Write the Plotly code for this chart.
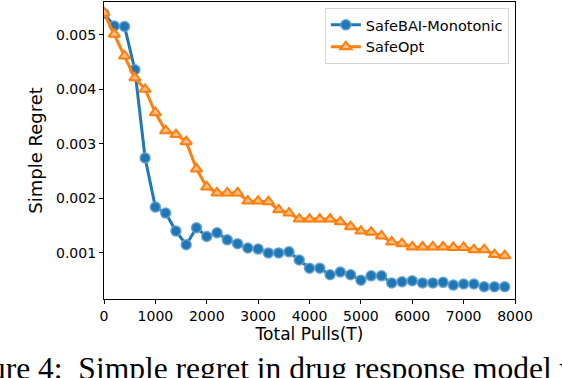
import plotly.graph_objects as go

# total pulls, every 200
pulls = list(range(0, 8000, 200))

# simple regret, SafeBAI-Monotonic
safebai = [0.00539, 0.00516, 0.00515, 0.00436, 0.00274, 0.00184, 0.00173, 0.00140,
           0.00115, 0.00146, 0.00130, 0.00137, 0.00124, 0.00117, 0.00109, 0.00107,
           0.00100, 0.00100, 0.00102, 0.00087, 0.00072, 0.00072, 0.00060, 0.00065,
           0.00060, 0.00050, 0.00058, 0.00058, 0.00045, 0.00047, 0.00049, 0.00045,
           0.00045, 0.00046, 0.00041, 0.00043, 0.00043, 0.00038, 0.00038, 0.00038]

# simple regret, SafeOpt
safeopt = [0.00540, 0.00501, 0.00461, 0.00421, 0.00400, 0.00357, 0.00324, 0.00317,
           0.00304, 0.00254, 0.00221, 0.00210, 0.00210, 0.00210, 0.00195, 0.00195,
           0.00194, 0.00179, 0.00173, 0.00162, 0.00162, 0.00162, 0.00162, 0.00157,
           0.00148, 0.00140, 0.00138, 0.00131, 0.00120, 0.00117, 0.00111, 0.00111,
           0.00111, 0.00111, 0.00110, 0.00110, 0.00106, 0.00106, 0.00097, 0.00095]

blue = "#1f77b4"
orange = "#ff7f0e"
font = "DejaVu Sans"

fig = go.Figure()
fig.add_trace(go.Scatter(
    x=pulls, y=safebai, mode="lines+markers", name="SafeBAI-Monotonic",
    line=dict(color=blue, width=3),
    marker=dict(symbol="circle", size=10, color=blue,
                line=dict(color="rgba(100,160,210,0.9)", width=1.5))))
fig.add_trace(go.Scatter(
    x=pulls, y=safeopt, mode="lines+markers", name="SafeOpt",
    line=dict(color=orange, width=3),
    marker=dict(symbol="triangle-up", size=10, color="rgba(255,190,130,1)",
                line=dict(color=orange, width=2))))

fig.update_layout(
    width=562, height=378,
    margin=dict(l=104, r=47, t=2, b=79, autoexpand=False),
    plot_bgcolor="white", paper_bgcolor="white",
    font=dict(family=font, size=14, color="black"),
    showlegend=True,
    legend=dict(x=0.985, y=0.98, xanchor="right", yanchor="top",
                bgcolor="white", bordercolor="#d8d8d8", borderwidth=1,
                font=dict(size=14.5), tracegroupgap=0),
    annotations=[dict(
        text="Figure 4:  Simple regret in drug response model with",
        xref="paper", yref="paper", x=-0.384, y=-0.167, xanchor="left", yanchor="top",
        showarrow=False, font=dict(family="Liberation Serif", size=31.5, color="black"))],
)
fig.update_xaxes(
    range=[0, 8000], tickvals=list(range(0, 8001, 1000)), automargin=False,
    showline=True, linecolor="black", linewidth=1.2, mirror=True,
    ticks="outside", ticklen=4, tickcolor="black", showgrid=False, zeroline=False,
    title=dict(text="Total Pulls(T)", font=dict(size=17), standoff=2))
fig.update_yaxes(
    range=[0.000155, 0.0056], tickvals=[0.001, 0.002, 0.003, 0.004, 0.005],
    tickformat=".3f", automargin=False,
    showline=True, linecolor="black", linewidth=1.2, mirror=True,
    ticks="outside", ticklen=4, tickcolor="black", showgrid=False, zeroline=False,
    title=dict(text="Simple Regret", font=dict(size=18), standoff=8))

fig.write_html("out.html", config={"displayModeBar": False},
               post_script="document.body.style.margin='0';")
